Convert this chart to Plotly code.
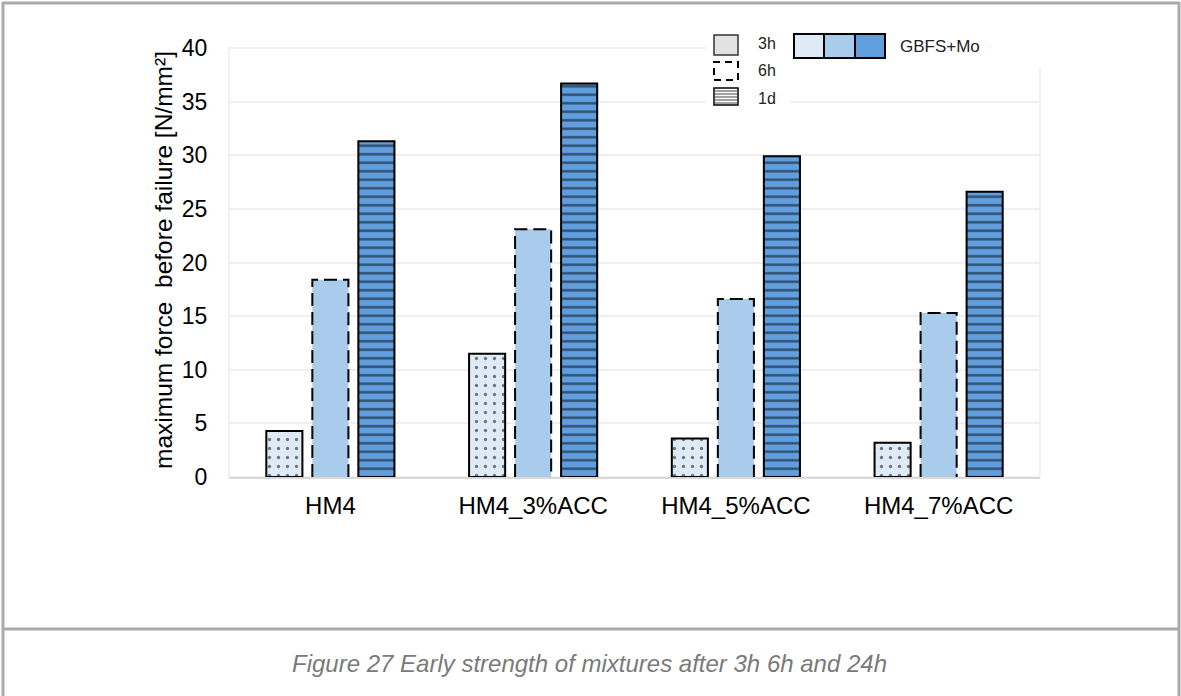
import plotly.graph_objects as go

# ---- data ----
categories = ["HM4", "HM4_3%ACC", "HM4_5%ACC", "HM4_7%ACC"]
series_names = ["3h", "6h", "1d"]
vals_3h = [4.3, 11.5, 3.6, 3.2]
vals_6h = [18.4, 23.1, 16.6, 15.3]
vals_1d = [31.3, 36.7, 29.9, 26.6]
y_ticks = [0, 5, 10, 15, 20, 25, 30, 35, 40]
y_title = "maximum force  before failure [N/mm²]"
caption = "Figure 27 Early strength of mixtures after 3h 6h and 24h"
legend_group_label = "GBFS+Mo"

# ---- layout constants ----
W, H = 1181, 696
L, R, T, B = 229, 1040, 48, 477
PW, PH = R - L, B - T

def px(x):
    return (x - L) / PW

def py(y):
    return (B - y) / PH

C_3H = "#deebf7"
C_6H = "#a9cbec"
C_1D = "#609edd"
FONT = "Liberation Sans, Arial, sans-serif"

slot = 0.227
bw = 0.178
idx = list(range(len(categories)))

fig = go.Figure()

fig.add_trace(go.Bar(
    x=[i - slot for i in idx], y=vals_3h, width=bw, name="3h",
    marker=dict(color=C_3H, line=dict(color="black", width=2),
                pattern=dict(shape=".", fgcolor="black", bgcolor=C_3H,
                             size=9, solidity=0.11, fillmode="overlay")),
    showlegend=False))

fig.add_trace(go.Bar(
    x=idx, y=vals_6h, width=bw, name="6h",
    marker=dict(color=C_6H, line=dict(width=0)),
    showlegend=False))

# dashed outline for 6h bars built from the data values
ox, oy = [], []
for i, v in zip(idx, vals_6h):
    ox += [i - bw / 2, i - bw / 2, i + bw / 2, i + bw / 2, None]
    oy += [0, v, v, 0, None]
fig.add_trace(go.Scatter(
    x=ox, y=oy, mode="lines", line=dict(color="black", width=2, dash="13px,6px"),
    hoverinfo="skip", showlegend=False, cliponaxis=False))

fig.add_trace(go.Bar(
    x=[i + slot for i in idx], y=vals_1d, width=bw, name="1d",
    marker=dict(color=C_1D, line=dict(color="black", width=2),
                pattern=dict(shape="-", fgcolor="black", bgcolor=C_1D,
                             size=8.5, solidity=0.28, fillmode="overlay")),
    showlegend=False))

shapes = []
annotations = []

# plot frame
shapes.append(dict(type="rect", xref="paper", yref="paper", x0=0, x1=1, y0=0, y1=1,
                   line=dict(color="#ededed", width=1.5), layer="below"))

# legend white background
shapes.append(dict(type="rect", xref="paper", yref="paper", x0=px(706), x1=px(1043),
                   y0=py(67), y1=py(28), fillcolor="white", line=dict(width=0), layer="above"))
shapes.append(dict(type="rect", xref="paper", yref="paper", x0=px(706), x1=px(790),
                   y0=py(110), y1=py(28), fillcolor="white", line=dict(width=0), layer="above"))

# legend swatches
sx0, sx1 = 714, 738
# 3h
shapes.append(dict(type="rect", xref="paper", yref="paper", x0=px(sx0), x1=px(sx1),
                   y0=py(55), y1=py(35), fillcolor="#e2e2e2",
                   line=dict(color="#333333", width=1.5), layer="above"))
# 6h
shapes.append(dict(type="rect", xref="paper", yref="paper", x0=px(sx0), x1=px(sx1),
                   y0=py(80), y1=py(62), fillcolor="white",
                   line=dict(color="black", width=2, dash="7px,5px"), layer="above"))
# 1d
shapes.append(dict(type="rect", xref="paper", yref="paper", x0=px(sx0), x1=px(sx1),
                   y0=py(105), y1=py(88), fillcolor="white",
                   line=dict(color="black", width=1.5), layer="above"))
for yy in [91, 94, 97, 100, 103]:
    shapes.append(dict(type="line", xref="paper", yref="paper", x0=px(sx0), x1=px(sx1),
                       y0=py(yy), y1=py(yy), line=dict(color="#444444", width=1), layer="above"))

for lab, yc in zip(series_names, [43, 70, 98]):
    annotations.append(dict(text=lab, xref="paper", yref="paper", x=px(756), y=py(yc),
                            xanchor="left", yanchor="middle", showarrow=False,
                            font=dict(family=FONT, size=16, color="#222222")))

# colour box
segs = [(794, 824, C_3H), (824, 855, C_6H), (855, 885, C_1D)]
for a, b, c in segs:
    shapes.append(dict(type="rect", xref="paper", yref="paper", x0=px(a), x1=px(b),
                       y0=py(58), y1=py(34), fillcolor=c,
                       line=dict(color="black", width=2), layer="above"))
annotations.append(dict(text=legend_group_label, xref="paper", yref="paper", x=px(898), y=py(47),
                        xanchor="left", yanchor="middle", showarrow=False,
                        font=dict(family=FONT, size=17, color="#222222")))

# y title
annotations.append(dict(text=y_title, xref="paper", yref="paper", x=px(163), y=py(260),
                        xanchor="center", yanchor="middle", textangle=-90, showarrow=False,
                        font=dict(family=FONT, size=24.5, color="black")))

# outer frame & caption separator
GR = "#ababab"
shapes.append(dict(type="line", xref="paper", yref="paper", x0=px(3), x1=px(3),
                   y0=py(2), y1=py(696), line=dict(color=GR, width=3), layer="above"))
shapes.append(dict(type="line", xref="paper", yref="paper", x0=px(1179), x1=px(1179),
                   y0=py(2), y1=py(696), line=dict(color=GR, width=3), layer="above"))
shapes.append(dict(type="line", xref="paper", yref="paper", x0=px(2), x1=px(1180),
                   y0=py(3), y1=py(3), line=dict(color=GR, width=3), layer="above"))
shapes.append(dict(type="line", xref="paper", yref="paper", x0=px(2), x1=px(1180),
                   y0=py(629), y1=py(629), line=dict(color=GR, width=3), layer="above"))

annotations.append(dict(text="<i>" + caption + "</i>", xref="paper", yref="paper",
                        x=px(589), y=py(663), xanchor="center", yanchor="middle",
                        showarrow=False, font=dict(family=FONT, size=24, color="#7a7a7a")))

fig.update_layout(
    width=W, height=H,
    margin=dict(l=L, r=W - R, t=T, b=H - B, pad=0),
    paper_bgcolor="white", plot_bgcolor="white",
    barmode="overlay",
    shapes=shapes, annotations=annotations,
    showlegend=False,
    font=dict(family=FONT, color="black"),
)
fig.update_xaxes(
    range=[-0.5, len(categories) - 0.5], tickvals=idx, ticktext=categories,
    showgrid=False, zeroline=False, showline=True, linecolor="#d9d9d9", linewidth=2,
    ticks="outside", ticklen=6, tickcolor="rgba(0,0,0,0)",
    tickfont=dict(family=FONT, size=24, color="black"),
)
fig.update_yaxes(
    range=[0, 40], tickvals=y_ticks, showgrid=True, gridcolor="#efefef", gridwidth=1.5,
    zeroline=False, showline=False,
    ticks="outside", ticklen=16, tickcolor="rgba(0,0,0,0)",
    tickfont=dict(family=FONT, size=23, color="black"),
)

fig.write_html("out.html", config={"displayModeBar": False},
               post_script="document.body.style.margin='0px';document.body.style.padding='0px';")
